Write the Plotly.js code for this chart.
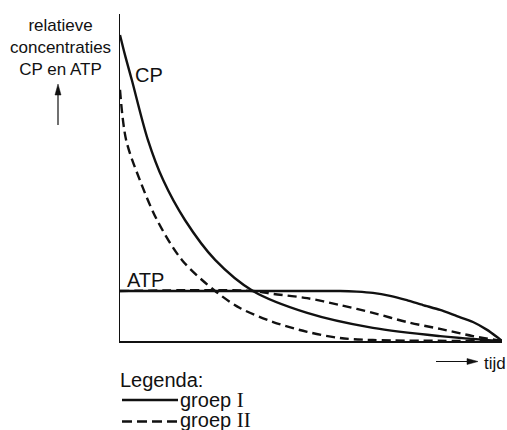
<!DOCTYPE html>
<html>
<head>
<meta charset="utf-8">
<script src="https://cdn.plot.ly/plotly-3.0.1.min.js"></script>
<style>html,body{margin:0;padding:0;background:#fff;}#chart{width:507px;height:430px;}</style>
</head>
<body>
<div id="chart"></div>
<script>
// CP, groep I (solid)
const cpX_I = [0, 1.3, 3.1, 7.3, 11.3, 17.0, 24.9, 34.8, 49.0, 66.2, 83.8, 100];
const cpY_I = [93.6, 87.5, 79.8, 61.5, 49.2, 37.0, 24.8, 15.3, 8.6, 4.0, 1.5, 0];
// CP, groep II (dashed)
const cpX_II = [0, 1.6, 5.2, 9.7, 16.2, 24.9, 31.4, 40.1, 49.0, 57.6, 66.2, 100];
const cpY_II = [76.8, 61.5, 49.2, 37.0, 24.8, 15.3, 10.1, 5.8, 2.8, 0.9, 0.3, 0];
// ATP, groep I (solid)
const atpX_I = [0, 57.6, 62.0, 66.2, 70.7, 75.1, 79.3, 83.8, 88.2, 92.4, 96.1, 98.7, 100];
const atpY_I = [15.3, 15.3, 15.1, 14.7, 13.8, 12.5, 11.0, 9.5, 7.6, 5.8, 3.4, 1.2, 0];
// ATP, groep II (dashed)
const atpX_II = [0, 34.8, 40.1, 49.0, 57.6, 66.2, 75.1, 83.8, 92.4, 100];
const atpY_II = [15.3, 15.3, 14.4, 13.1, 11.0, 8.6, 5.8, 3.7, 1.5, 0];

const yTitleLines = ["relatieve", "concentraties", "CP en ATP"];
const xTitle = "tijd";
const legendTitle = "Legenda:";
const groupNames = ["groep", "groep"];
const groupNumerals = ["I", "II"];
const curveLabels = ["CP", "ATP"];

const W = 507, H = 430;
const M = {l: 120, r: 5, t: 14, b: 89};
const PW = W - M.l - M.r, PH = H - M.t - M.b;
const px = x => (x - M.l) / PW;
const py = y => (H - M.b - y) / PH;

const FONT = "Liberation Sans, Arial, Helvetica, sans-serif";
const SERIF = "Liberation Serif, Times New Roman, serif";
const DASH = "9px,5px";
const LW = 2.4;

function tr(x, y, dash, sm) {
  return {x: x, y: y, type: "scatter", mode: "lines", cliponaxis: false,
    line: {color: "#111", width: LW, dash: dash, shape: "spline", smoothing: sm},
    hoverinfo: "skip", showlegend: false};
}

const data = [
  tr(atpX_II, atpY_II, DASH, 0.9),
  tr(cpX_II, cpY_II, DASH, 0.9),
  tr(atpX_I, atpY_I, "solid", 0.6),
  tr(cpX_I, cpY_I, "solid", 0.9)
];

const shapes = [
  // up arrow
  {type: "line", xref: "paper", yref: "paper", x0: px(58), x1: px(58), y0: py(125), y1: py(92), line: {color: "#111", width: 1.2}},
  {type: "path", xref: "paper", yref: "paper", path: `M ${px(58)} ${py(84)} L ${px(55)} ${py(95)} L ${px(61)} ${py(95)} Z`, fillcolor: "#111", line: {color: "#111", width: 0.5}},
  // right arrow
  {type: "line", xref: "paper", yref: "paper", x0: px(436), x1: px(470), y0: py(361.5), y1: py(361.5), line: {color: "#111", width: 1.2}},
  {type: "path", xref: "paper", yref: "paper", path: `M ${px(478)} ${py(361.5)} L ${px(467)} ${py(358.5)} L ${px(467)} ${py(364.5)} Z`, fillcolor: "#111", line: {color: "#111", width: 0.5}},
  // legend samples
  {type: "line", xref: "paper", yref: "paper", x0: px(122), x1: px(178), y0: py(400), y1: py(400), line: {color: "#111", width: LW}},
  {type: "line", xref: "paper", yref: "paper", x0: px(122), x1: px(178), y0: py(421.5), y1: py(421.5), line: {color: "#111", width: LW, dash: "10px,5px"}}
];

const ann = (x, y, text, size, xanchor) => ({xref: "paper", yref: "paper", x: px(x), y: py(y), text: text, showarrow: false,
  xanchor: xanchor || "center", yanchor: "middle", align: "center", font: {family: FONT, size: size, color: "#111"}});

const annotations = [
  ann(60, 48, yTitleLines.join("<br>"), 17),
  ann(482, 363, xTitle, 17, "left"),
  ann(118, 380, legendTitle, 20, "left"),
  ann(178, 400, `${groupNames[0]} <span style="font-family:${SERIF};font-size:21px">${groupNumerals[0]}</span>`, 20, "left"),
  ann(178, 420, `${groupNames[1]} <span style="font-family:${SERIF};font-size:21px">${groupNumerals[1]}</span>`, 20, "left"),
  {xref: "x", yref: "y", x: 7.7, y: 81.5, text: curveLabels[0], showarrow: false, xanchor: "center", yanchor: "middle", font: {family: FONT, size: 20, color: "#111"}},
  {xref: "x", yref: "y", x: 6.8, y: 18.6, text: curveLabels[1], showarrow: false, xanchor: "center", yanchor: "middle", font: {family: FONT, size: 20, color: "#111"}}
];

const axisCommon = {range: [0, 100], showline: true, linecolor: "#111", linewidth: 1.5, showgrid: false, zeroline: false,
  showticklabels: false, ticks: "", fixedrange: true};

const layout = {
  width: W, height: H, margin: M, paper_bgcolor: "#fff", plot_bgcolor: "#fff",
  xaxis: Object.assign({}, axisCommon, {title: {text: ""}}),
  yaxis: Object.assign({}, axisCommon, {title: {text: ""}}),
  shapes: shapes, annotations: annotations, showlegend: false,
  font: {family: FONT, color: "#111"}
};

Plotly.newPlot("chart", data, layout, {displayModeBar: false, staticPlot: true});
</script>
</body>
</html>
